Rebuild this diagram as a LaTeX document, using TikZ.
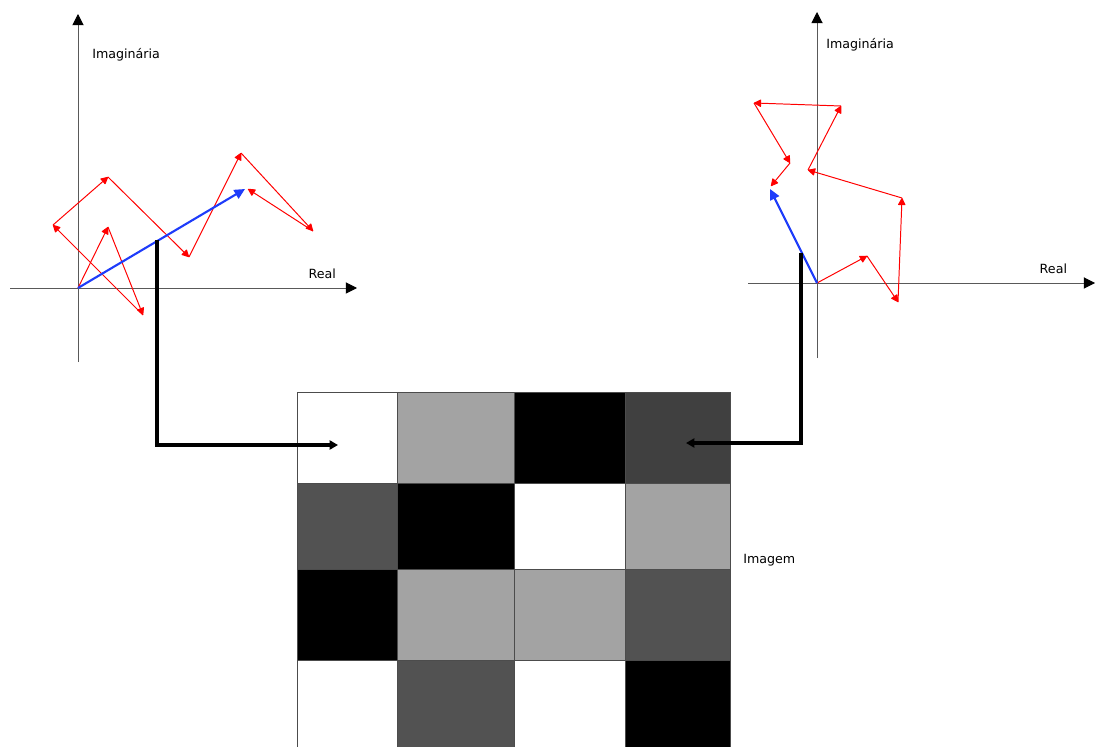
\documentclass[tikz,border=0pt]{standalone}
\usepackage{fontspec}
\setmainfont{DejaVu Sans}
\usetikzlibrary{arrows.meta}
\definecolor{azul}{RGB}{30,60,250}
\definecolor{claro}{RGB}{163,163,163}
\definecolor{medio}{RGB}{82,82,82}
\definecolor{escuro}{RGB}{64,64,64}
\begin{document}
\begin{tikzpicture}[x=0.025cm,y=-0.025cm,
    eixo/.style={draw=black!65,line width=0.7pt,-{Triangle[length=8pt,width=8pt,color=black]}},
    fasor/.style={red,line width=0.7pt,-{Triangle[length=5.5pt,width=5.5pt,round]}},
    soma/.style={azul,line width=1.5pt,-{Triangle[length=7.5pt,width=7pt]}},
    ligacao/.style={black,line width=2.2pt,-{Triangle[length=6pt,width=6.5pt]}},
    rotulo/.style={font=\fontsize{9}{11}\selectfont,inner sep=0pt}]
\useasboundingbox (0,0) rectangle (1096,747);
% Plano complexo da esquerda
\draw[eixo] (10,288) -- (357,288) node[rotulo,pos=0.9,above=6pt] (reA) {Real}; % eixo real
\draw[eixo] (78,362) -- (78,14); % eixo imaginario
\node[rotulo,anchor=west] (imA) at (92,55) {Imaginária};
\coordinate (oA) at (78,288);
\coordinate (a1) at (108,227); \coordinate (a2) at (143,315);
\coordinate (a3) at (53,225);  \coordinate (a4) at (108,177);
\coordinate (a5) at (189,257); \coordinate (a6) at (241,153);
\coordinate (a7) at (313,231); \coordinate (a8) at (248,189);
\foreach \p/\q in {oA/a1,a1/a2,a2/a3,a3/a4,a4/a5,a5/a6,a6/a7,a7/a8}{\draw[fasor] (\p)--(\q);
}
\draw[soma] (oA) -- (245,189); % resultante
% Plano complexo da direita
\draw[eixo] (748,283) -- (1095,283) node[rotulo,pos=0.88,above=6pt] (reB) {Real};
\draw[eixo] (817,358) -- (817,12);
\node[rotulo,anchor=west] (imB) at (826,45) {Imaginária};
\coordinate (oB) at (817,283);
\coordinate (b1) at (867,256); \coordinate (b2) at (898,302);
\coordinate (b3) at (902,198); \coordinate (b4) at (808,170);
\coordinate (b5) at (841,106); \coordinate (b6) at (754,103);
\coordinate (b7) at (790,163); \coordinate (b8) at (771,186);
\foreach \p/\q in {oB/b1,b1/b2,b2/b3,b3/b4,b4/b5,b5/b6,b6/b7,b7/b8}{\draw[fasor] (\p)--(\q);
}
\draw[soma] (oB) -- (770,189);
% Imagem (pixels)
\foreach \cor [count=\k from 0] in {white,claro,black,escuro,medio,black,white,claro,black,claro,claro,medio,white,medio,white,black}{
    \pgfmathtruncatemacro\i{mod(\k,4)}
    \pgfmathtruncatemacro\j{div(\k,4)}
    \pgfmathsetmacro\xa{{297,397,514,625,730}[\i]}
    \pgfmathsetmacro\xb{{297,397,514,625,730}[\i+1]}
    \pgfmathsetmacro\ya{{392,483,569,660,760}[\j]}
    \pgfmathsetmacro\yb{{392,483,569,660,760}[\j+1]}
    \filldraw[fill=\cor,draw=black!70,line width=0.6pt] (\xa,\ya) rectangle (\xb,\yb);
}
\node[rotulo,anchor=west] (img) at (743,560) {Imagem};
% Ligacoes fasor -> pixel
\coordinate (pA) at (157,240); \coordinate (pxA) at (338,445);
\coordinate (pB) at (801,253); \coordinate (pxB) at (686,443);
\draw[ligacao] (pA) |- (pxA);
\draw[ligacao] (pB) |- (pxB);
\end{tikzpicture}
\end{document}
